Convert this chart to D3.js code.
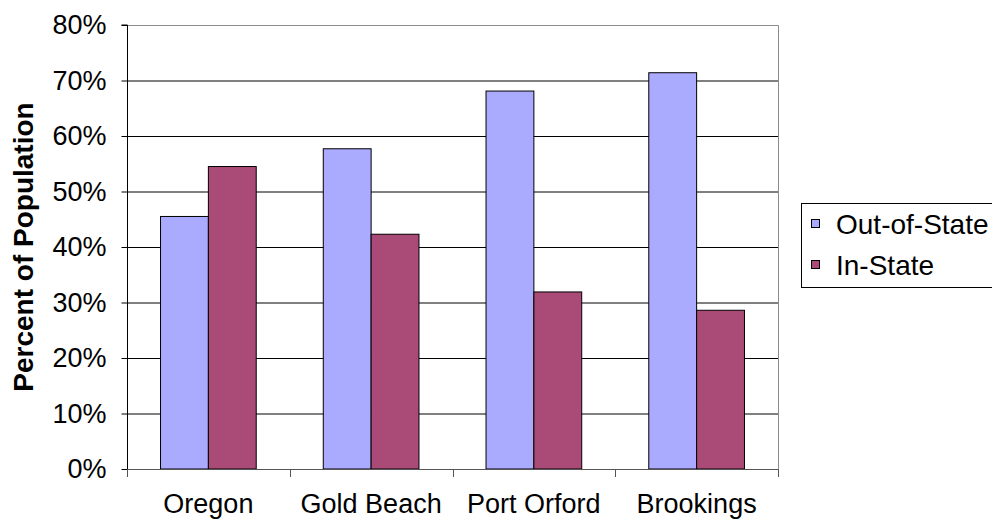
<!DOCTYPE html>
<html>
<head>
<meta charset="utf-8">
<script src="https://cdn.jsdelivr.net/npm/d3@7"></script>
<style>
  html, body { margin: 0; padding: 0; background: #fff; }
  svg { display: block; font-family: "Liberation Sans", Arial, sans-serif; }
</style>
</head>
<body>
<svg id="chart" width="992" height="521"></svg>
<script>
// Place of origin of residents, by community
const categories = ["Oregon", "Gold Beach", "Port Orford", "Brookings"];
const seriesNames = ["Out-of-State", "In-State"];
const outOfState = [45.5, 57.7, 68.1, 71.4];
const inState = [54.5, 42.3, 31.9, 28.6];
const yTicks = [0, 10, 20, 30, 40, 50, 60, 70, 80];
const colors = ["#AAAAFF", "#A94A77"];

const svg = d3.select("#chart");
const plot = { left: 127, right: 778, top: 25, bottom: 469 };

const x = d3.scaleBand().domain(categories).range([plot.left, plot.right]).padding(0);
const groupW = x.bandwidth();
const xInner = d3.scaleBand().domain(seriesNames)
  .range([groupW * 0.206, groupW * 0.794]).padding(0);
const y = d3.scaleLinear().domain([0, 80]).range([plot.bottom, plot.top]);

// gridlines
svg.append("g").selectAll("line")
  .data(yTicks.filter(t => t > 0 && t < 80))
  .join("line")
  .attr("x1", plot.left).attr("x2", plot.right)
  .attr("y1", d => y(d) + 0.5).attr("y2", d => y(d) + 0.5)
  .attr("stroke", "#000").attr("stroke-width", 1);

// plot frame (top and right)
svg.append("path")
  .attr("d", `M${plot.left},${y(80) + 0.5}H${plot.right + 0.5}V${plot.bottom}`)
  .attr("fill", "none").attr("stroke", "#8c8c8c").attr("stroke-width", 1);

// bars
const rows = categories.map((c, i) => ({ cat: c, vals: [outOfState[i], inState[i]] }));
const groups = svg.append("g").selectAll("g").data(rows).join("g")
  .attr("transform", d => `translate(${x(d.cat)},0)`);
groups.selectAll("rect")
  .data(d => d.vals.map((v, k) => ({ name: seriesNames[k], v, k })))
  .join("rect")
  .attr("x", d => xInner(d.name))
  .attr("y", d => y(d.v))
  .attr("width", xInner.bandwidth())
  .attr("height", d => y(0) - y(d.v))
  .attr("fill", d => colors[d.k])
  .attr("stroke", "#000").attr("stroke-width", 1);

// y axis
const yAxis = d3.axisLeft(y).tickValues(yTicks).tickFormat(d => d + "%")
  .tickSize(6).tickPadding(15);
const gy = svg.append("g").attr("transform", `translate(${plot.left + 0.5},0)`).call(yAxis);
gy.select(".domain").attr("stroke", "#000").attr("d", `M-6,${plot.top}H0V${plot.bottom}`);
gy.selectAll(".tick line").attr("stroke", "#000");
gy.selectAll(".tick text").attr("font-size", 27).attr("fill", "#000")
  .attr("font-family", "'Liberation Sans', Arial, sans-serif");

// x axis (category boundaries)
const gx = svg.append("g");
gx.append("line")
  .attr("x1", plot.left).attr("x2", plot.right + 1)
  .attr("y1", plot.bottom + 0.5).attr("y2", plot.bottom + 0.5)
  .attr("stroke", "#555");
const bounds = categories.map(c => x(c)).concat([plot.right]);
gx.selectAll("line.tk").data(bounds).join("line").attr("class", "tk")
  .attr("x1", d => Math.round(d) + 0.5).attr("x2", d => Math.round(d) + 0.5)
  .attr("y1", plot.bottom).attr("y2", plot.bottom + 8)
  .attr("stroke", "#555");
gx.selectAll("text").data(categories).join("text")
  .attr("x", d => x(d) + groupW / 2)
  .attr("y", 513)
  .attr("text-anchor", "middle")
  .attr("font-size", 27)
  .text(d => d);

// y axis title
svg.append("text")
  .attr("transform", `translate(33,${(plot.top + plot.bottom) / 2}) rotate(-90)`)
  .attr("text-anchor", "middle")
  .attr("font-size", 28).attr("font-weight", "bold")
  .text("Percent of Population");

// legend
const lg = svg.append("g");
lg.append("rect").attr("x", 801.5).attr("y", 203.5).attr("width", 220).attr("height", 84)
  .attr("fill", "#fff").attr("stroke", "#000");
const items = lg.selectAll("g").data(seriesNames).join("g")
  .attr("transform", (d, i) => `translate(0,${224 + i * 41})`);
items.append("rect").attr("x", 811.5).attr("y", -4.5).attr("width", 8).attr("height", 8)
  .attr("fill", (d, i) => colors[i]).attr("stroke", "#000");
items.append("text").attr("x", 836).attr("y", 0).attr("dy", "0.36em")
  .attr("font-size", 28).text(d => d);
</script>
</body>
</html>
